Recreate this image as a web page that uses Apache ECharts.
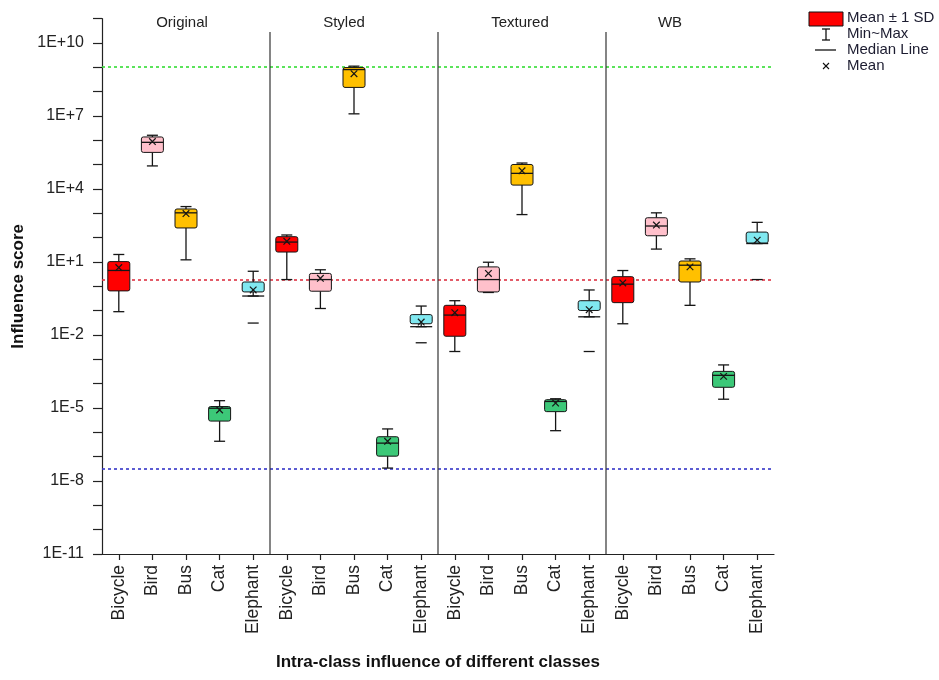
<!DOCTYPE html>
<html>
<head>
<meta charset="utf-8">
<script src="https://cdn.jsdelivr.net/npm/echarts@6/dist/echarts.min.js"></script>
<style>
html,body{margin:0;padding:0;background:#fff;}
#chart{width:939px;height:680px;}
</style>
</head>
<body>
<div id="chart"></div>
<script>
// ---- data ----
const groups = ['Original', 'Styled', 'Textured', 'WB'];
const classes = ['Bicycle', 'Bird', 'Bus', 'Cat', 'Elephant'];
// each row: [min, mean-1SD (box bottom), median, mean+1SD (box top), max, mean]
const originalStats = [
  [0.091, 0.65, 4.5, 10.4, 20.4, 5.9],
  [8.9e4, 3.2e5, 8.3e5, 1.38e6, 1.62e6, 8.9e5],
  [12.3, 251, 1050, 1510, 1900, 980],
  [4.3e-7, 2.9e-6, 9.8e-6, 1.15e-5, 2.0e-5, 8.3e-6],
  [0.40, 0.59, 0.40, 1.51, 4.17, 0.71]
];
const styledStats = [
  [1.9, 25.7, 66, 110, 129, 71],
  [0.123, 0.63, 1.9, 3.4, 4.8, 2.14],
  [1.23e7, 1.5e8, 8.1e8, 9.8e8, 1.12e9, 5.5e8],
  [3.4e-8, 1.05e-7, 3.6e-7, 6.6e-7, 1.38e-6, 4.3e-7],
  [0.022, 0.029, 0.022, 0.069, 0.155, 0.034]
];
const texturedStats = [
  [0.0021, 0.0089, 0.066, 0.166, 0.257, 0.083],
  [0.56, 0.59, 1.9, 6.3, 9.8, 3.4],
  [890, 1.45e4, 4.4e4, 1.02e5, 1.17e5, 5.6e4],
  [1.17e-6, 7.1e-6, 1.86e-5, 2.2e-5, 2.4e-5, 1.6e-5],
  [0.056, 0.102, 0.056, 0.257, 0.71, 0.11]
];
const wbStats = [
  [0.029, 0.214, 1.23, 2.5, 4.47, 1.38],
  [34, 120, 302, 660, 1050, 331],
  [0.166, 1.51, 7.4, 11, 13.5, 6.3],
  [2.3e-5, 7.1e-5, 2.2e-4, 3.2e-4, 5.9e-4, 2.0e-4],
  [57.5, 60, 57.5, 170, 427, 79]
];
// separate low marker drawn under the Elephant boxes, per group
const elephantLowMark = [0.031, 0.0048, 0.0021, 1.9];
// dotted reference lines
const refLines = [1.07e9, 1.8, 3.2e-8];
const yTickExponents = { min: -11, max: 11 };

// ---- styles ----
const classColors = ['#ff0000', '#ffc0cb', '#ffc000', '#3cc878', '#80e8f0'];
const refColors = ['#33dd33', '#dd3344', '#3535c8'];
const FONT = '"Liberation Sans", Arial, Helvetica, sans-serif';
const dividerTopExp = 10.45;

const groupStats = [originalStats, styledStats, texturedStats, wbStats];
const categories = [];
groups.forEach(() => classes.forEach(c => categories.push(c)));

function makeBox(color) {
  return function (params, api) {
    const xi = api.value(0);
    const P = k => api.coord([xi, api.value(k)]);
    const cx = P(1)[0];
    const yMin = P(1)[1], yLo = P(2)[1], yMed = P(3)[1], yHi = P(4)[1], yMax = P(5)[1], yMean = P(6)[1];
    const bw = 22, cw = 11, m = 3.3;
    const ls = { stroke: '#151515', lineWidth: 1.3 };
    const children = [
      { type: 'line', shape: { x1: cx, y1: yHi, x2: cx, y2: yMax }, style: ls },
      { type: 'line', shape: { x1: cx - cw / 2, y1: yMax, x2: cx + cw / 2, y2: yMax }, style: ls },
      { type: 'line', shape: { x1: cx, y1: yLo, x2: cx, y2: yMin }, style: ls },
      { type: 'line', shape: { x1: cx - cw / 2, y1: yMin, x2: cx + cw / 2, y2: yMin }, style: ls },
      { type: 'rect', shape: { x: cx - bw / 2, y: yHi, width: bw, height: yLo - yHi, r: 2 },
        style: { fill: color, stroke: '#151515', lineWidth: 1 } },
      { type: 'line', shape: { x1: cx - bw / 2, y1: yMed, x2: cx + bw / 2, y2: yMed },
        style: { stroke: '#151515', lineWidth: 1.3 } },
      { type: 'line', shape: { x1: cx - m, y1: yMean - m, x2: cx + m, y2: yMean + m },
        style: { stroke: '#151515', lineWidth: 1.2 } },
      { type: 'line', shape: { x1: cx - m, y1: yMean + m, x2: cx + m, y2: yMean - m },
        style: { stroke: '#151515', lineWidth: 1.2 } }
    ];
    const lm = api.value(7);
    if (isFinite(lm)) {
      const yl = P(7)[1];
      children.push({ type: 'line', shape: { x1: cx - cw / 2, y1: yl, x2: cx + cw / 2, y2: yl }, style: ls });
    }
    return { type: 'group', children };
  };
}

const boxSeries = classes.map((cls, ci) => ({
  type: 'custom',
  name: cls,
  z: 3,
  encode: { x: 0, y: [1, 2, 3, 4, 5] },
  data: groupStats.map((gs, gi) => [gi * classes.length + ci]
    .concat(gs[ci].map(v => Math.log10(v)))
    .concat([ci === 4 ? Math.log10(elephantLowMark[gi]) : NaN])),
  renderItem: makeBox(classColors[ci])
}));

const dividerSeries = {
  type: 'custom',
  name: 'dividers',
  z: 1,
  silent: true,
  encode: { x: 0, y: 1 },
  data: groups.slice(1).map((g, i) => [(i + 1) * classes.length, yTickExponents.min]),
  renderItem: function (params, api) {
    const bw = api.size([1, 0])[0];
    const x = api.coord([api.value(0), yTickExponents.min])[0] - bw / 2;
    const y1 = api.coord([0, dividerTopExp])[1];
    const y2 = api.coord([0, yTickExponents.min])[1];
    return { type: 'line', shape: { x1: x, y1: y1, x2: x, y2: y2 }, style: { stroke: '#333', lineWidth: 1.2 } };
  },
  markLine: {
    silent: true,
    z: 1,
    symbol: ['none', 'none'],
    label: { show: false },
    lineStyle: { type: [3, 3], width: 1.6 },
    data: refLines.map((v, i) => ({ yAxis: Math.log10(v), lineStyle: { color: refColors[i], type: [3, 3], width: 1.6 } }))
  }
};

const groupTitleX = [182, 344, 520, 670];

const chart = echarts.init(document.getElementById('chart'), null, { renderer: 'canvas' });
chart.setOption({
  backgroundColor: '#fff',
  animation: false,
  grid: { left: 102, right: 165, top: 18.7, bottom: 126, containLabel: false },
  xAxis: {
    type: 'category',
    data: categories,
    boundaryGap: true,
    axisLine: { show: true, onZero: false, lineStyle: { color: '#222', width: 1.2 } },
    axisTick: { show: true, alignWithLabel: true, length: 6, lineStyle: { color: '#222', width: 1.2 } },
    axisLabel: { rotate: 90, fontSize: 17.5, color: '#222', fontFamily: FONT, margin: 11, interval: 0 },
    splitLine: { show: false },
    name: 'Intra-class influence of different classes',
    nameLocation: 'middle',
    nameGap: 100,
    nameTextStyle: { fontSize: 17, fontWeight: 'bold', color: '#111', fontFamily: FONT }
  },
  yAxis: {
    type: 'value',
    min: yTickExponents.min,
    max: yTickExponents.max,
    interval: 1,
    axisLine: { show: true, lineStyle: { color: '#222', width: 1.2 } },
    axisTick: { show: true, length: 9, lineStyle: { color: '#222', width: 1.2 } },
    splitLine: { show: false },
    axisLabel: {
      fontSize: 16, color: '#222', fontFamily: FONT, margin: 18,
      formatter: function (v) {
        const e = Math.round(v);
        if ((e - yTickExponents.min) % 3 !== 0) return '';
        return '1E' + (e >= 0 ? '+' : '') + e;
      }
    },
    name: 'Influence score',
    nameLocation: 'middle',
    nameGap: 74,
    nameTextStyle: { fontSize: 17, fontWeight: 'bold', color: '#111', fontFamily: FONT }
  },
  series: [dividerSeries].concat(boxSeries),
  graphic: [
    ...groups.map((g, i) => ({
      type: 'text', x: groupTitleX[i], y: 23, silent: true,
      style: { text: g, font: '15px ' + FONT, fill: '#222', align: 'center', verticalAlign: 'middle' }
    })),
    // legend
    { type: 'rect', shape: { x: 809, y: 12, width: 34, height: 14 }, style: { fill: '#ff0000', stroke: '#111', lineWidth: 1 } },
    { type: 'line', shape: { x1: 826, y1: 29, x2: 826, y2: 40 }, style: { stroke: '#111', lineWidth: 1.3 } },
    { type: 'line', shape: { x1: 822, y1: 29, x2: 830, y2: 29 }, style: { stroke: '#111', lineWidth: 1.3 } },
    { type: 'line', shape: { x1: 822, y1: 40, x2: 830, y2: 40 }, style: { stroke: '#111', lineWidth: 1.3 } },
    { type: 'line', shape: { x1: 815, y1: 50, x2: 836, y2: 50 }, style: { stroke: '#111', lineWidth: 1.3 } },
    { type: 'line', shape: { x1: 823, y1: 63, x2: 829, y2: 69 }, style: { stroke: '#111', lineWidth: 1.1 } },
    { type: 'line', shape: { x1: 823, y1: 69, x2: 829, y2: 63 }, style: { stroke: '#111', lineWidth: 1.1 } },
    ...['Mean \u00b1 1 SD', 'Min~Max', 'Median Line', 'Mean'].map((t, i) => ({
      type: 'text', x: 847, y: 18 + i * 16, silent: true,
      style: { text: t, font: '15px ' + FONT, fill: '#1c1c30', align: 'left', verticalAlign: 'middle' }
    }))
  ]
});
</script>
</body>
</html>
